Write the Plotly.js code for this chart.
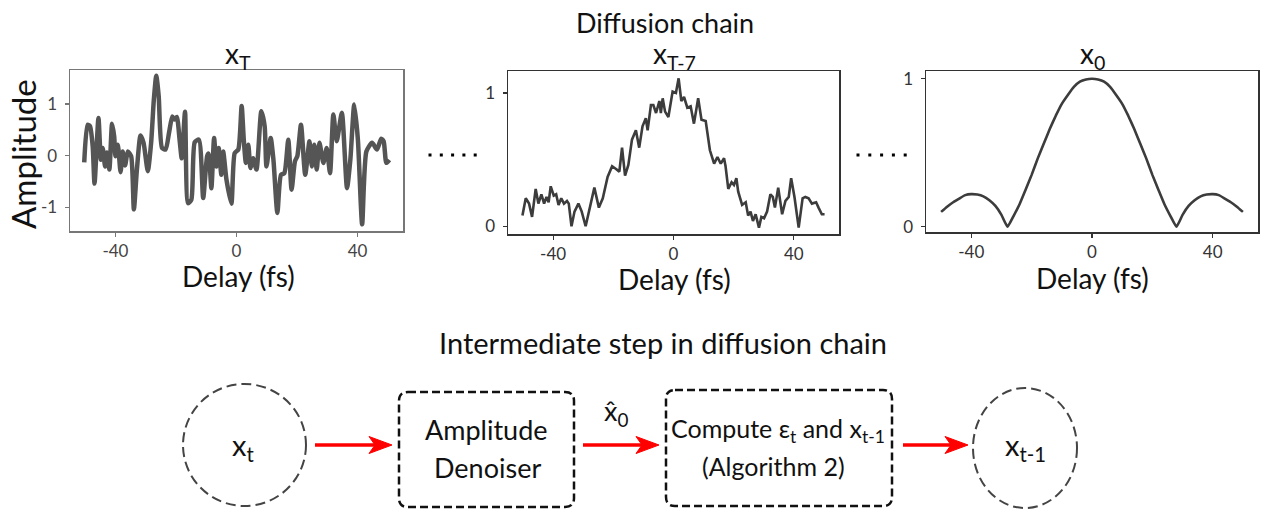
<!DOCTYPE html>
<html><head><meta charset="utf-8">
<script src="https://cdn.plot.ly/plotly-3.0.1.min.js"></script>
<style>html,body{margin:0;padding:0;background:#fff}#chart{width:1266px;height:513px}</style>
</head><body><div id="chart"></div>
<script>
// ---------- data ----------
// x_T (pure noise)
const delayT = [-50.3,-49.2,-48.4,-47.5,-46.9,-45.6,-44.8,-44.2,-43.4,-42.8,
  -42.0,-41.1,-40.4,-40.0,-39.2,-38.3,-37.6,-36.8,-35.9,-34.8,
  -33.9,-32.9,-31.7,-30.7,-29.3,-28.2,-27.3,-26.5,-25.7,-24.6,
  -23.4,-22.3,-21.2,-20.4,-19.7,-18.8,-18.1,-17.0,-16.0,-14.9,
  -13.8,-12.4,-11.0,-9.7,-9.2,-8.3,-7.4,-6.6,-5.9,-5.0,
  -4.4,-3.3,-1.7,-0.6,0.6,1.7,2.4,3.1,3.9,4.6,
  5.5,6.6,8.2,9.3,9.9,11.3,12.2,13.5,14.7,15.8,
  17.1,18.2,19.3,20.1,21.3,22.7,24.1,24.9,25.7,26.5,
  27.4,28.7,29.8,30.9,32.0,33.1,34.8,36.5,37.6,38.9,
  40.1,41.5,42.9,44.8,46.4,47.8,48.6,49.5,50.5];
const ampT = [-0.13,0.60,0.57,0.18,-0.54,0.73,-0.08,0.15,-0.21,0.06,
  -0.27,0.62,0.37,-0.01,0.21,-0.32,0.08,-0.19,0.08,-0.01,
  -1.04,-0.27,0.39,0.25,-0.30,0.25,1.09,1.55,1.15,0.15,
  0.12,0.44,0.76,0.70,0.75,0.31,-0.05,0.85,-0.92,-0.85,
  0.26,0.31,-0.82,-0.01,0.04,-0.63,0.34,-0.21,0.15,-0.37,
  0.08,-0.47,-0.93,0.05,0.12,0.96,0.31,-0.14,0.21,-0.24,
  -0.05,-0.27,0.86,0.57,-0.21,0.34,-0.08,-1.11,-0.37,-0.34,
  0.31,-0.66,-0.11,-0.01,0.60,-0.37,0.28,-0.21,0.21,-0.27,
  0.25,-0.14,0.15,-0.34,0.80,0.28,0.83,-0.63,-0.08,0.99,
  0.31,-1.33,0.08,0.25,0.12,0.33,0.28,-0.14,-0.08];

// x_{T-7} (partly denoised)
const delayT7 = [-50.2,-49.1,-48.0,-47.0,-45.8,-44.9,-43.9,-43.0,-42.2,-41.5,
  -40.8,-39.8,-39.0,-38.2,-37.3,-36.4,-35.4,-34.8,-33.9,-32.9,
  -31.6,-30.5,-29.2,-27.9,-26.3,-24.8,-23.5,-21.9,-20.4,-19.1,
  -18.0,-17.1,-16.1,-15.0,-13.8,-12.5,-11.4,-10.3,-9.2,-8.6,
  -7.5,-6.7,-5.8,-4.7,-4.2,-3.6,-2.8,-1.7,-0.3,0.8,
  1.7,2.6,3.5,4.6,5.7,6.8,8.2,9.3,10.7,12.1,
  13.5,14.6,15.7,16.8,17.3,18.2,19.3,20.1,20.9,21.5,
  22.8,24.0,24.8,25.6,26.4,27.3,28.4,29.2,30.1,31.1,
  32.2,33.0,33.7,34.8,36.1,37.2,38.3,39.1,40.2,41.6,
  42.9,43.8,44.9,46.0,47.4,48.2,49.3,50.2];
const ampT7 = [0.08,0.21,0.17,0.07,0.28,0.17,0.24,0.17,0.22,0.18,
  0.30,0.23,0.24,0.16,0.21,0.17,0.19,0.17,0.00,0.11,
  0.17,0.11,0.00,0.14,0.29,0.14,0.21,0.37,0.45,0.43,
  0.41,0.59,0.38,0.46,0.65,0.72,0.59,0.75,0.81,0.72,
  0.91,0.91,0.85,0.94,0.85,0.96,0.86,0.82,1.01,1.00,
  1.11,0.94,0.97,0.89,0.90,0.77,0.96,0.80,0.79,0.57,
  0.47,0.52,0.47,0.51,0.45,0.28,0.33,0.31,0.36,0.26,
  0.16,0.18,0.08,0.11,0.04,0.09,-0.01,0.07,0.06,0.11,
  0.24,0.22,0.14,0.29,0.09,0.19,0.22,0.36,0.22,-0.01,
  0.21,0.22,0.21,0.17,0.18,0.14,0.09,0.09];

// x_0 (clean amplitude)
const delay0 = [-50,-48,-46,-44,-42,-40,-38,-36,-34,-32,-30,-28,-26,-24,-22,-20,-18,-16,-14,-12,-10,-8,-6,-4,-2,
  0,2,4,6,8,10,12,14,16,18,20,22,24,26,28,30,32,34,36,38,40,42,44,46,48,50];
const amp0 = [0.10,0.135,0.165,0.19,0.213,0.22,0.217,0.205,0.178,0.14,0.08,0.0,0.072,0.152,0.25,0.35,0.46,0.56,0.66,0.75,0.83,0.89,0.945,0.98,0.995,
  1.0,0.995,0.98,0.945,0.89,0.83,0.75,0.66,0.56,0.46,0.35,0.25,0.152,0.072,0.0,0.08,0.14,0.178,0.205,0.217,0.22,0.213,0.19,0.165,0.135,0.10];

const xTickVals = [-40, 0, 40];
const xTickText = ['-40', '0', '40'];
const yTickValsT = [-1, 0, 1];
const yTickTextT = ['-1', '0', '1'];
const yTickVals01 = [0, 1];
const yTickText01 = ['0', '1'];

const panelTitles = ['x<sub>T</sub>', 'x<sub>T-7</sub>', 'x<sub>0</sub>'];
const xTitle = 'Delay (fs)';
const yTitle = 'Amplitude';
const topTitle = 'Diffusion chain';
const bottomTitle = 'Intermediate step in diffusion chain';
const nodeStart = 'x<sub>t</sub>';
const nodeEnd = 'x<sub>t-1</sub>';
const box1Lines = ['Amplitude', 'Denoiser'];
const box2Lines = ['Compute ε<sub>t</sub> and x<sub>t-1</sub>', '(Algorithm 2)'];
const edgeLabel = 'x̂<sub>0</sub>';

// ---------- geometry helpers (pixels -> paper) ----------
const W = 1266, H = 513;
const px = X => X / W;
const py = Y => 1 - Y / H;
const FONT = 'Lato, "Open Sans", sans-serif';

function xax(x0, x1, anchor, lc, tc) {
  return {domain: [px(x0), px(x1)], range: [-55, 55], anchor: anchor,
    tickmode: 'array', tickvals: xTickVals, ticktext: xTickText,
    ticks: 'outside', ticklen: 4, tickwidth: 1.2, tickcolor: lc,
    showline: true, linecolor: lc, linewidth: 1.5, mirror: true,
    showgrid: false, zeroline: false, fixedrange: true,
    tickfont: {family: FONT, size: 17, color: tc}};
}
function yax(y0, y1, range, vals, text, anchor, lc, tc) {
  return {domain: [py(y1), py(y0)], range: range, anchor: anchor,
    tickmode: 'array', tickvals: vals, ticktext: text,
    ticks: 'outside', ticklen: 4, tickwidth: 1.2, tickcolor: lc,
    showline: true, linecolor: lc, linewidth: 1.5, mirror: true,
    showgrid: false, zeroline: false, fixedrange: true, ticklabelstandoff: 4,
    tickfont: {family: FONT, size: 17, color: tc}};
}

const traces = [
  {x: delayT, y: ampT, xaxis: 'x', yaxis: 'y', mode: 'lines',
   line: {color: '#555555', width: 4.5, shape: 'spline', smoothing: 0.6}, hoverinfo: 'skip'},
  {x: delayT7, y: ampT7, xaxis: 'x2', yaxis: 'y2', mode: 'lines',
   line: {color: '#3c3c3c', width: 2.6}, hoverinfo: 'skip'},
  {x: delay0, y: amp0, xaxis: 'x3', yaxis: 'y3', mode: 'lines',
   line: {color: '#3c3c3c', width: 2.6, shape: 'spline', smoothing: 0.4}, hoverinfo: 'skip'}
];

function ann(text, X, Y, size, extra) {
  return Object.assign({text: text, x: px(X), y: py(Y), xref: 'paper', yref: 'paper',
    xanchor: 'center', yanchor: 'middle', showarrow: false,
    font: {family: FONT, size: size, color: '#111'}}, extra || {});
}

const annotations = [
  ann(topTitle, 665, 23, 27),
  ann(panelTitles[0], 238, 55, 28),
  ann(panelTitles[1], 674, 55, 28),
  ann(panelTitles[2], 1092, 55, 28),
  ann(xTitle, 238, 276, 28),
  ann(xTitle, 674, 279, 28),
  ann(xTitle, 1092, 278, 28),
  ann(yTitle, 23, 154, 33, {textangle: -90}),
  ann(bottomTitle, 663, 342, 29),
  ann(nodeStart, 243, 446, 29),
  ann(nodeEnd, 1025, 446, 29),
  ann(box1Lines[0], 486, 429, 27),
  ann(box1Lines[1], 487, 467, 27),
  ann(box2Lines[0], 778, 430, 25),
  ann(box2Lines[1], 773, 466, 25),
  ann(edgeLabel, 616, 412, 27)
];

function rrect(X0, Y0, X1, Y1, r) {
  const P = (X, Y) => px(X) + ',' + py(Y);
  return 'M' + P(X0 + r, Y0) + ' L' + P(X1 - r, Y0) + ' Q' + P(X1, Y0) + ' ' + P(X1, Y0 + r) +
    ' L' + P(X1, Y1 - r) + ' Q' + P(X1, Y1) + ' ' + P(X1 - r, Y1) +
    ' L' + P(X0 + r, Y1) + ' Q' + P(X0, Y1) + ' ' + P(X0, Y1 - r) +
    ' L' + P(X0, Y0 + r) + ' Q' + P(X0, Y0) + ' ' + P(X0 + r, Y0) + ' Z';
}
function arrow(X0, Xt, Y) {
  const P = (X, Yy) => px(X) + ',' + py(Yy);
  return [
    {type: 'line', xref: 'paper', yref: 'paper', x0: px(X0), x1: px(Xt - 16), y0: py(Y), y1: py(Y),
     line: {color: '#ff0000', width: 3.5}},
    {type: 'path', xref: 'paper', yref: 'paper',
     path: 'M' + P(Xt, Y) + ' L' + P(Xt - 23, Y - 8.5) + ' L' + P(Xt - 17, Y) + ' L' + P(Xt - 23, Y + 8.5) + ' Z',
     fillcolor: '#ff0000', line: {color: '#ff0000', width: 1}}
  ];
}

const shapes = [
  {type: 'line', xref: 'paper', yref: 'paper', x0: px(428.5), x1: px(478), y0: py(155), y1: py(155),
   line: {color: '#000', width: 3, dash: '3px,8.3px'}},
  {type: 'line', xref: 'paper', yref: 'paper', x0: px(856.5), x1: px(907), y0: py(155), y1: py(155),
   line: {color: '#000', width: 3, dash: '3px,8.8px'}},
  {type: 'circle', xref: 'paper', yref: 'paper', x0: px(183), x1: px(306), y0: py(506), y1: py(384),
   line: {color: '#444', width: 2, dash: '10px,5px'}},
  {type: 'circle', xref: 'paper', yref: 'paper', x0: px(973), x1: px(1077), y0: py(508), y1: py(388),
   line: {color: '#444', width: 2, dash: '10px,5px'}},
  {type: 'path', xref: 'paper', yref: 'paper', path: rrect(399, 392, 574, 507, 9),
   line: {color: '#111', width: 2.5, dash: '8px,4px'}},
  {type: 'path', xref: 'paper', yref: 'paper', path: rrect(666, 390, 892, 506, 9),
   line: {color: '#111', width: 2.5, dash: '8px,4px'}}
].concat(arrow(315, 392, 445), arrow(583, 659, 445), arrow(903, 968, 445));

const layout = {
  width: W, height: H, margin: {l: 0, r: 0, t: 0, b: 0},
  paper_bgcolor: '#fff', plot_bgcolor: '#fff', showlegend: false,
  font: {family: FONT},
  xaxis: xax(70, 403, 'y', '#777', '#444'),
  yaxis: yax(70, 231, [-1.46, 1.66], yTickValsT, yTickTextT, 'x', '#777', '#444'),
  xaxis2: xax(508, 839, 'y2', '#333', '#333'),
  yaxis2: yax(71, 234, [-0.058, 1.165], yTickVals01, yTickText01, 'x2', '#333', '#333'),
  xaxis3: xax(926, 1258, 'y3', '#333', '#333'),
  yaxis3: yax(71, 232, [-0.036, 1.052], yTickVals01, yTickText01, 'x3', '#333', '#333'),
  annotations: annotations,
  shapes: shapes
};

Plotly.newPlot('chart', traces, layout, {displayModeBar: false, staticPlot: true});
</script>
</body></html>
